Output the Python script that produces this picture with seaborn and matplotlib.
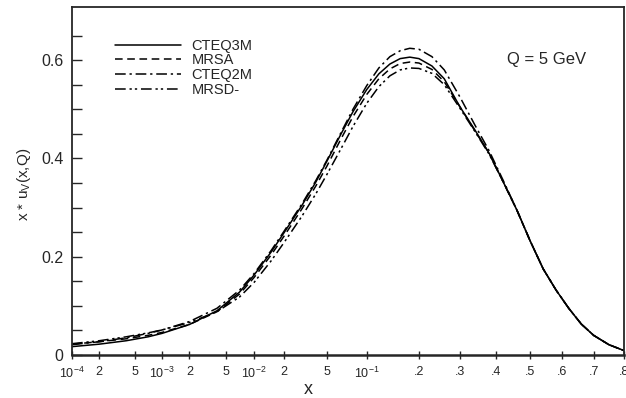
import numpy as np
import pandas as pd
import matplotlib
matplotlib.use("Agg")
import matplotlib.pyplot as plt
import seaborn as sns

# ---- data ----
x_vals = [1e-4, 2e-4, 4e-4, 7e-4, 1e-3, 2e-3, 4e-3, 7e-3, 0.01, 0.015, 0.02, 0.03,
          0.04, 0.05, 0.065, 0.08, 0.1, 0.12, 0.14, 0.16, 0.18, 0.2, 0.23, 0.26,
          0.3, 0.34, 0.38, 0.42, 0.46, 0.5, 0.54, 0.58, 0.62, 0.66, 0.7, 0.75, 0.8]

cteq3m = [0.017, 0.022, 0.029, 0.037, 0.044, 0.062, 0.090, 0.128, 0.163, 0.210, 0.248, 0.305,
          0.352, 0.395, 0.450, 0.495, 0.540, 0.572, 0.592, 0.603, 0.606, 0.603, 0.588, 0.562,
          0.505, 0.458, 0.410, 0.352, 0.295, 0.232, 0.175, 0.132, 0.095, 0.063, 0.040, 0.021, 0.009]

mrsa = [0.022, 0.027, 0.033, 0.040, 0.046, 0.062, 0.088, 0.124, 0.158, 0.204, 0.241, 0.298,
        0.344, 0.385, 0.440, 0.485, 0.530, 0.562, 0.582, 0.593, 0.596, 0.594, 0.581, 0.556,
        0.505, 0.456, 0.410, 0.352, 0.295, 0.232, 0.175, 0.132, 0.095, 0.063, 0.040, 0.021, 0.009]

cteq2m = [0.021, 0.027, 0.035, 0.044, 0.051, 0.068, 0.095, 0.132, 0.166, 0.213, 0.251, 0.308,
          0.355, 0.397, 0.453, 0.500, 0.548, 0.584, 0.607, 0.619, 0.624, 0.622, 0.607, 0.580,
          0.525, 0.468, 0.415, 0.355, 0.295, 0.232, 0.175, 0.132, 0.095, 0.063, 0.040, 0.021, 0.009]

mrsd = [0.023, 0.029, 0.037, 0.045, 0.051, 0.066, 0.088, 0.118, 0.148, 0.192, 0.228, 0.283,
        0.328, 0.368, 0.420, 0.465, 0.512, 0.546, 0.568, 0.580, 0.584, 0.583, 0.573, 0.550,
        0.502, 0.455, 0.408, 0.352, 0.295, 0.232, 0.175, 0.132, 0.095, 0.063, 0.040, 0.021, 0.009]

series_names = ["CTEQ3M", "MRSA", "CTEQ2M", "MRSD-"]

x_ticks = [1e-4, 2e-4, 5e-4, 1e-3, 2e-3, 5e-3, 1e-2, 2e-2, 5e-2, 0.1,
           0.2, 0.3, 0.4, 0.5, 0.6, 0.7, 0.8]
x_ticklabels = [r"$\mathregular{10^{-4}}$", "2", "5", r"$\mathregular{10^{-3}}$", "2", "5",
                r"$\mathregular{10^{-2}}$", "2", "5", r"$\mathregular{10^{-1}}$",
                ".2", ".3", ".4", ".5", ".6", ".7", ".8"]
y_ticks = [0, 0.2, 0.4, 0.6]
y_ticklabels = ["0", "0.2", "0.4", "0.6"]

# ---- style ----
sns.set_style("ticks")
plt.rcParams["font.family"] = ["Liberation Sans", "DejaVu Sans"]
plt.rcParams["mathtext.fontset"] = "custom"
plt.rcParams["mathtext.rm"] = "Liberation Sans"

df = pd.concat([
    pd.DataFrame({"x": x_vals, "y": vals, "pdf": name})
    for name, vals in zip(series_names, [cteq3m, mrsa, cteq2m, mrsd])
], ignore_index=True)

fig = plt.figure(figsize=(6.26, 3.98), dpi=100)
ax = fig.add_axes([72 / 626, 43 / 398, 552 / 626, 348 / 398])

# mixed log / linear x scale
C = 2.8
def fwd(x):
    x = np.asarray(x, dtype=float)
    out = np.full_like(x, -10.0)
    m = x > 0
    out[m] = np.log10(x[m]) + C * x[m]
    return out

_grid = np.logspace(-8, 0.5, 20000)
_fgrid = np.log10(_grid) + C * _grid
def inv(y):
    return np.interp(np.asarray(y, dtype=float), _fgrid, _grid)

ax.set_xscale("function", functions=(fwd, inv))

dashes = {
    "CTEQ3M": "",
    "MRSA": (5, 3),
    "CTEQ2M": (7, 2.5, 1.5, 2.5),
    "MRSD-": (7, 2.5, 1.5, 2, 1.5, 2.5),
}
sns.lineplot(data=df, x="x", y="y", style="pdf", dashes=dashes, color="black",
             linewidth=1.1, ax=ax, sort=True, estimator=None)

ax.set_xlim(1e-4, 0.8)
ax.set_ylim(0, 0.708)

ax.set_xticks(x_ticks)
ax.set_xticklabels(x_ticklabels, fontsize=9)
ax.xaxis.set_minor_locator(matplotlib.ticker.NullLocator())
ax.tick_params(axis="x", direction="inout", length=6, width=1, pad=5)

ax.set_yticks(y_ticks)
ax.set_yticklabels(y_ticklabels, fontsize=11.5)
ax.set_yticks(np.arange(0.05, 0.70, 0.05).tolist(), minor=True)
ax.tick_params(axis="y", which="both", direction="in", length=7, width=1)
ax.tick_params(axis="y", which="major", pad=6)

for s in ax.spines.values():
    s.set_linewidth(1.3)
    s.set_visible(True)
ax.spines["bottom"].set_linewidth(1.8)

ax.set_xlabel("x", fontsize=13, labelpad=0)
ax.xaxis.set_label_coords((308 - 72) / 552, -0.075)
ax.set_ylabel(r"x * u$_\mathregular{V}$(x,Q)", fontsize=11)
ax.yaxis.set_label_coords((33 - 72) / 552, 0.49)

handles, labels = ax.get_legend_handles_labels()
ax.legend(handles, labels, loc="upper left", bbox_to_anchor=(0.065, 0.93),
          frameon=False, fontsize=10.5, handlelength=4.5, handletextpad=0.75,
          labelspacing=0.05, borderpad=0)

ax.text(0.860, 0.848, "Q = 5 GeV", transform=ax.transAxes, ha="center", va="center",
        fontsize=12)

fig.savefig("out.png", dpi=100)
